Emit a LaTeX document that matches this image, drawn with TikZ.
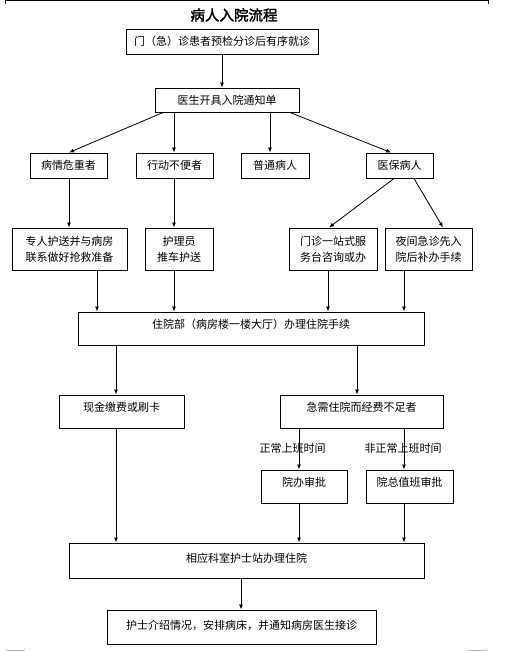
\documentclass[tikz,border=0pt]{standalone}
\usepackage{fontspec}
\newfontfamily\cjk{Noto Sans CJK SC}
\newfontfamily\cjkb[FakeBold=2]{Noto Sans CJK SC}
\usetikzlibrary{arrows.meta}
\tikzset{
  box/.style={draw=black, line width=1pt, rectangle, inner sep=0pt},
  txt/.style={inner sep=0pt, font=\cjk\fontsize{11}{16}\selectfont, align=center},
  arr/.style={draw=black, line width=0.8pt, -{Latex[length=5pt,width=4pt]}},
  margin/.style={draw=black!30, line width=1pt}
}
\begin{document}
\begin{tikzpicture}[x=1pt,y=-1pt]
\useasboundingbox (0,0) rectangle (509,651);
% page marks
\draw[line width=1pt] (5,0.8) -- (488,0.8);
\draw[line width=0.8pt] (5,0) -- (5,3.5);
\draw[line width=0.8pt] (488,0) -- (488,3.5);
\draw[margin] (6,650) -- (25,650);
\draw[margin] (468,650) -- (487,650);
% title
\node[inner sep=0pt, font=\cjkb\fontsize{14.5}{16}\selectfont] (title) at (234,15) {病人入院流程};
% boxes
\node[box, minimum width=192, minimum height=25] (b1) at (222,41.5) {};
\node[txt] (t1) at (222,41.5) {门（急）诊患者预检分诊后有序就诊};
\node[box, minimum width=144, minimum height=24] (b2) at (227,100) {};
\node[txt] (t2) at (227,100) {医生开具入院通知单};
\node[box, minimum width=77, minimum height=25] (r3a) at (68.5,165.5) {};
\node[txt] (t3a) at (68.5,165.5) {病情危重者};
\node[box, minimum width=77, minimum height=25] (r3b) at (174.5,165.5) {};
\node[txt] (t3b) at (174.5,165.5) {行动不便者};
\node[box, minimum width=68, minimum height=25] (r3c) at (275,165.5) {};
\node[txt] (t3c) at (275,165.5) {普通病人};
\node[box, minimum width=67, minimum height=25] (r3d) at (399.5,165.5) {};
\node[txt] (t3d) at (399.5,165.5) {医保病人};
\node[box, minimum width=115, minimum height=42] (r4a) at (69.5,249) {};
\node[txt] (t4a) at (69.5,249) {专人护送并与病房\\联系做好抢救准备};
\node[box, minimum width=68, minimum height=42] (r4b) at (179,249) {};
\node[txt] (t4b) at (179,249) {护理员\\推车护送};
\node[box, minimum width=88, minimum height=42] (r4c) at (333,249) {};
\node[txt] (t4c) at (333,249) {门诊一站式服\\务台咨询或办};
\node[box, minimum width=87, minimum height=42] (r4d) at (428.5,249) {};
\node[txt] (t4d) at (428.5,249) {夜间急诊先入\\院后补办手续};
\node[box, minimum width=346, minimum height=33] (b5) at (251,328.5) {};
\node[txt] (t5) at (251,324) {住院部（病房楼一楼大厅）办理住院手续};
\node[box, minimum width=125, minimum height=33] (b6a) at (121.5,411.5) {};
\node[txt] (t6a) at (121.5,407) {现金缴费或刷卡};
\node[box, minimum width=163, minimum height=33] (b6b) at (361.5,411.5) {};
\node[txt] (t6b) at (361.5,407) {急需住院而经费不足者};
\node[box, minimum width=86, minimum height=33] (b7a) at (304,486.5) {};
\node[txt] (t7a) at (304,482) {院办审批};
\node[box, minimum width=87, minimum height=33] (b7b) at (409.5,486.5) {};
\node[txt] (t7b) at (409.5,482) {院总值班审批};
\node[box, minimum width=355, minimum height=35] (b8) at (246.5,560.5) {};
\node[txt] (t8) at (246.5,558) {相应科室护士站办理住院};
\node[box, minimum width=269, minimum height=34] (b9) at (241.5,627) {};
\node[txt] (t9) at (241.5,625) {护士介绍情况，安排病床，并通知病房医生接诊};
% column coordinates
\coordinate (x69) at (69,0);
\coordinate (x97) at (97,0);
\coordinate (x116) at (116,0);
\coordinate (x163) at (163,0);
\coordinate (x174) at (174,0);
\coordinate (x222) at (222,0);
\coordinate (x241) at (241,0);
\coordinate (x270) at (270,0);
\coordinate (x290) at (290,0);
\coordinate (x299) at (299,0);
\coordinate (x328) at (328,0);
\coordinate (x329) at (329,0);
\coordinate (x357) at (357,0);
\coordinate (x391) at (391,0);
\coordinate (x394) at (394,0);
\coordinate (x404) at (404,0);
\coordinate (x414) at (414,0);
\coordinate (x443) at (443,0);
% arrows
\draw[arr] (b1.south -| x222) -- (b2.north -| x222);
\draw[arr] (b2.south -| x163) -- (r3a.north -| x69);
\draw[arr] (b2.south -| x174) -- (r3b.north -| x174);
\draw[arr] (b2.south -| x270) -- (r3c.north -| x270);
\draw[arr] (b2.south -| x290) -- (r3d.north -| x391);
\draw[arr] (r3a.south -| x69) -- (r4a.north -| x69);
\draw[arr] (r3b.south -| x174) -- (r4b.north -| x174);
\draw[arr] (r3d.south -| x394) -- (r4c.north -| x329);
\draw[arr] (r3d.south -| x414) -- (r4d.north -| x443);
\draw[arr] (r4a.south -| x97) -- (b5.north -| x97);
\draw[arr] (r4b.south -| x174) -- (b5.north -| x174);
\draw[arr] (r4c.south -| x328) -- (b5.north -| x328);
\draw[arr] (r4d.south -| x404) -- (b5.north -| x404);
\draw[arr] (b5.south -| x116) -- (b6a.north -| x116);
\draw[arr] (b5.south -| x357) -- (b6b.north -| x357);
\draw[arr] (b6b.south -| x299) -- (b7a.north -| x299);
\draw[arr] (b6b.south -| x404) -- (b7b.north -| x404);
\draw[arr] (b6a.south -| x116) -- (b8.north -| x116);
\draw[arr] (b7a.south -| x299) -- (b8.north -| x299);
\draw[arr] (b7b.south -| x404) -- (b8.north -| x404);
\draw[arr] (b8.south -| x241) -- (b9.north -| x241);
% edge labels
\node[txt] (l1) at (292.5,448) {正常上班时间};
\node[txt] (l2) at (403,448) {非正常上班时间};
\end{tikzpicture}
\end{document}
